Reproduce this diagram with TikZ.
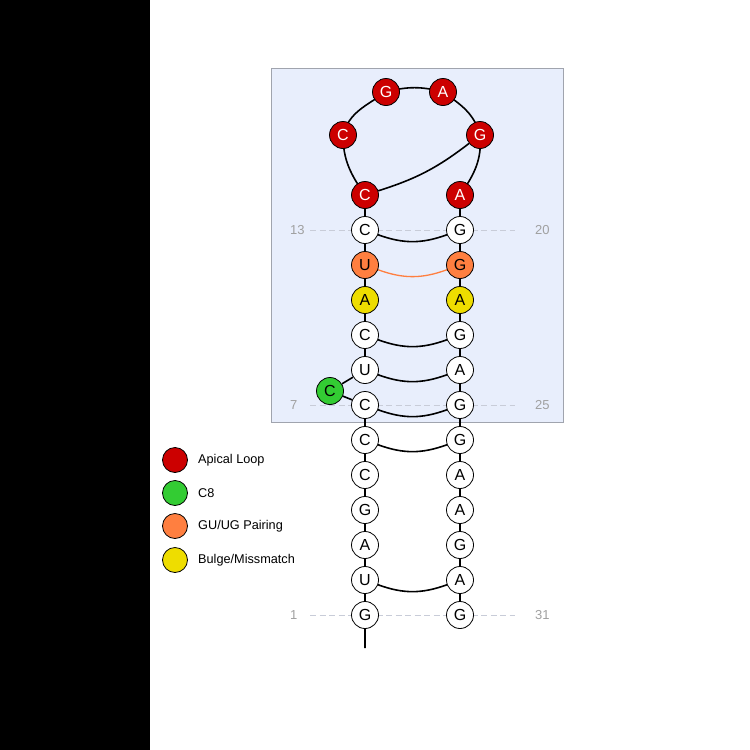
\documentclass[tikz,border=0pt]{standalone}
\usepackage{fontspec}
\setmainfont{Liberation Sans}
\definecolor{apred}{HTML}{CC0000}
\definecolor{cgreen}{HTML}{33CC33}
\definecolor{guor}{HTML}{FF7F40}
\definecolor{buly}{HTML}{EEDD00}
\definecolor{boxfill}{HTML}{E8EEFC}
\definecolor{boxdraw}{HTML}{A0A4AE}
\definecolor{guidegray}{HTML}{C8CCD8}
\definecolor{idxgray}{HTML}{A0A0A0}
\pgfdeclarelayer{bg}
\pgfdeclarelayer{edges}
\pgfsetlayers{bg,edges,main}
\begin{document}
\begin{tikzpicture}[x=1pt,y=-1pt,
 nt/.style={circle,draw=black,line width=0.8pt,minimum size=27pt,inner sep=0pt,font=\fontsize{16}{16}\selectfont,fill=white},
 loopn/.style={nt,fill=apred,text=white},
 gun/.style={nt,fill=guor},
 bun/.style={nt,fill=buly},
 c8n/.style={nt,fill=cgreen},
 bb/.style={line width=1.6pt},
 pairline/.style={line width=1.6pt},
 guide/.style={dash pattern=on 6pt off 3.5pt, draw=guidegray, line width=1pt},
 idx/.style={text=idxgray,font=\fontsize{13}{13}\selectfont,inner sep=0pt},
 leg/.style={circle,draw=black,line width=0.8pt,minimum size=25pt,inner sep=0pt},
 legt/.style={anchor=west,font=\fontsize{12.7}{12.7}\selectfont,inner sep=0pt}
]
\useasboundingbox (0,0) rectangle (750,750);
\begin{pgfonlayer}{bg}
\fill[black] (0,0) rectangle (150,750);
\draw[fill=boxfill,draw=boxdraw,line width=0.9pt] (271,68) rectangle (563,422);
\end{pgfonlayer}
% left strand
\node[nt] (n1) at (365,615) {G};
\node[nt] (n2) at (365,580) {U};
\node[nt] (n3) at (365,545) {A};
\node[nt] (n4) at (365,510) {G};
\node[nt] (n5) at (365,475) {C};
\node[nt] (n6) at (365,440) {C};
\node[nt] (n7) at (365,405) {C};
\node[c8n] (n8) at (330,391) {C};
\node[nt] (n9) at (365,370) {U};
\node[nt] (n10) at (365,335) {C};
\node[bun] (n11) at (365,300) {A};
\node[gun] (n12) at (365,265) {U};
\node[nt] (n13) at (365,230) {C};
% loop
\node[loopn] (n14) at (365,195) {C};
\node[loopn] (n15) at (343,135) {C};
\node[loopn] (n16) at (386,92) {G};
\node[loopn] (n17) at (443,92) {A};
\node[loopn] (n18) at (480,135) {G};
\node[loopn] (n19) at (460,195) {A};
% right strand
\node[nt] (n20) at (460,230) {G};
\node[gun] (n21) at (460,265) {G};
\node[bun] (n22) at (460,300) {A};
\node[nt] (n23) at (460,335) {G};
\node[nt] (n24) at (460,370) {A};
\node[nt] (n25) at (460,405) {G};
\node[nt] (n26) at (460,440) {G};
\node[nt] (n27) at (460,475) {A};
\node[nt] (n28) at (460,510) {A};
\node[nt] (n29) at (460,545) {G};
\node[nt] (n30) at (460,580) {A};
\node[nt] (n31) at (460,615) {G};
\coordinate (tail) at (365,648);
% guides and indices
\coordinate (g13a) at (310,230); \coordinate (g13b) at (515,230);
\coordinate (g7a) at (310,405); \coordinate (g7b) at (515,405);
\coordinate (g1a) at (310,615); \coordinate (g1b) at (515,615);
\node[idx,anchor=west] (i13) at (290,230) {13};
\node[idx,anchor=west] (i20) at (535,230) {20};
\node[idx,anchor=west] (i7) at (290,405) {7};
\node[idx,anchor=west] (i25) at (535,405) {25};
\node[idx,anchor=west] (i1) at (290,615) {1};
\node[idx,anchor=west] (i31) at (535,615) {31};
% legend
\node[leg,fill=apred] (k1) at (175,460) {};
\node[leg,fill=cgreen] (k2) at (175,493) {};
\node[leg,fill=guor] (k3) at (175,526) {};
\node[leg,fill=buly] (k4) at (175,560) {};
\node[legt] (t1) at (198,460) {Apical Loop};
\node[legt] (t2) at (198,493) {C8};
\node[legt] (t3) at (198,526) {GU/UG Pairing};
\node[legt] (t4) at (198,560) {Bulge/Missmatch};
\begin{pgfonlayer}{edges}
\draw[guide] (g13a) -- (g13b);
\draw[guide] (g7a) -- (g7b);
\draw[guide] (g1a) -- (g1b);
\draw[bb] (tail) -- (n1) -- (n2) -- (n3) -- (n4) -- (n5) -- (n6) -- (n7) -- (n8) -- (n9) -- (n10) -- (n11) -- (n12) -- (n13) -- (n14);
\draw[bb] (n14.center) to[out=125,in=-90] (n15.center) to[out=75,in=215] (n16.center) to[out=15,in=165] (n17.center) to[out=-35,in=105] (n18.center) to[out=-85,in=55] (n19.center);
\draw[bb] (n19) -- (n20) -- (n21) -- (n22) -- (n23) -- (n24) -- (n25) -- (n26) -- (n27) -- (n28) -- (n29) -- (n30) -- (n31);
\draw[bb] (n14) to[bend right=10] (n18);
\draw[pairline] (n13) to[bend right=20] (n20);
\draw[pairline,draw=guor,line width=1.3pt] (n12) to[bend right=20] (n21);
\draw[pairline] (n10) to[bend right=20] (n23);
\draw[pairline] (n9) to[bend right=20] (n24);
\draw[pairline] (n7) to[bend right=20] (n25);
\draw[pairline] (n6) to[bend right=20] (n26);
\draw[pairline] (n2) to[bend right=20] (n30);
\end{pgfonlayer}
\end{tikzpicture}
\end{document}
